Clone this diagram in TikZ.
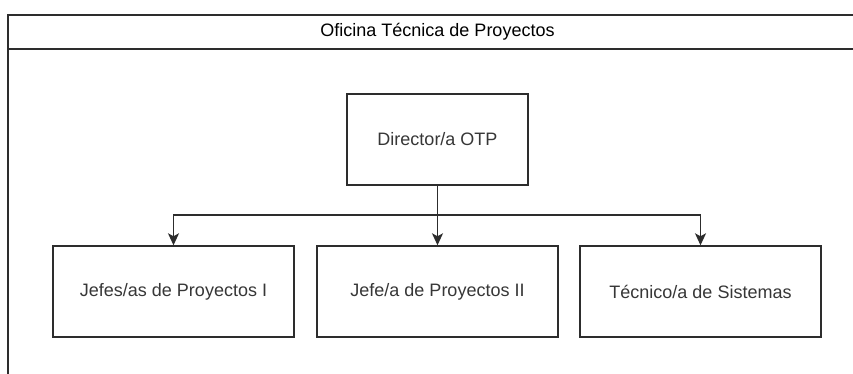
\documentclass[tikz,border=0pt]{standalone}
\usepackage{fontspec}
\setmainfont{Liberation Sans}
\usetikzlibrary{arrows.meta}
\definecolor{linec}{RGB}{45,45,45}
\definecolor{textc}{RGB}{55,55,55}
\tikzset{
  box/.style={draw=linec, line width=1.4pt, fill=white, minimum width=241pt, minimum height=91pt, inner sep=0pt, text=textc, font=\fontsize{18}{21}\selectfont},
  topbox/.style={box, minimum width=181pt},
  conn/.style={draw=linec, line width=1.4pt},
  arr/.style={conn, -{Stealth[length=12pt, width=11pt, inset=3pt]}},
  frame/.style={draw=linec, line width=1.6pt},
}
\begin{document}
\begin{tikzpicture}[x=1pt, y=-1pt]
\useasboundingbox (0,0) rectangle (853,374);
\clip (0,0) rectangle (853,374);
\fill[white] (0,0) rectangle (853,374);
% container frame (extends past the right and bottom edges)
\draw[frame] (8,380) -- (8,15) -- (870,15);
\draw[frame] (8,49) -- (870,49);
\node[text=black, font=\fontsize{18}{21}\selectfont] (title) at (437.5,32) {Oficina Técnica de Proyectos};
% nodes
\node[topbox] (dir) at (437.5,139.5) {Director/a OTP};
\node[box] (j1) at (173.5,291.5) {Jefes/as de Proyectos I};
\node[box] (j2) at (437.5,291.5) {Jefe/a de Proyectos II};
\node[box] (tec) at (700.5,291.5) {Técnico/a de Sistemas};
% connectors
\coordinate (split) at (437.5,215);
\draw[arr] (dir.south) -- (j2.north);
\draw[arr] (split) -| (j1.north);
\draw[arr] (split) -| (tec.north);
\end{tikzpicture}
\end{document}
